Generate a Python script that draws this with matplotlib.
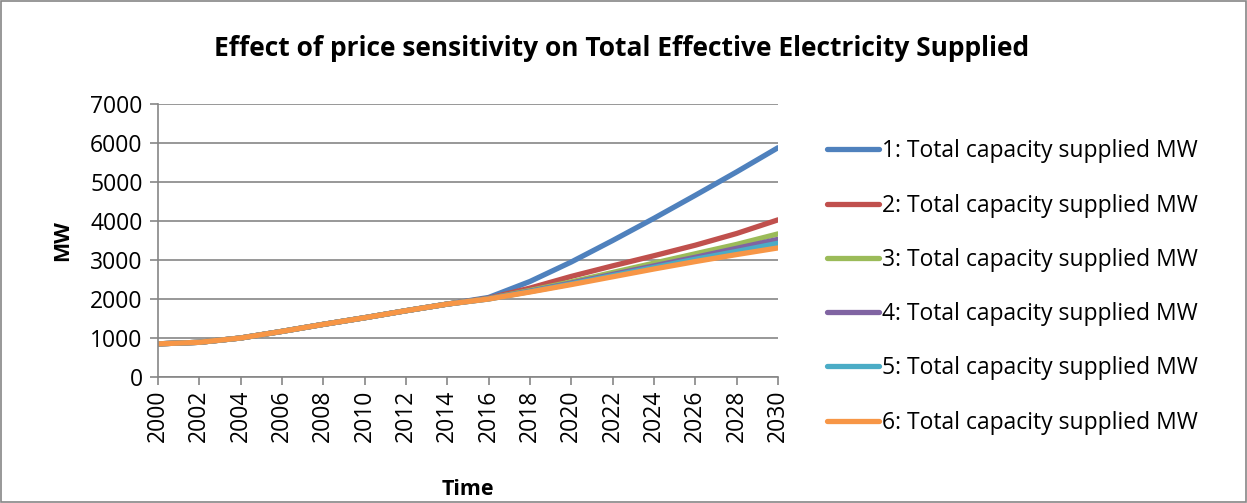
import matplotlib
matplotlib.use("Agg")
import matplotlib.pyplot as plt
from matplotlib.patches import Rectangle

years = [2000, 2002, 2004, 2006, 2008, 2010, 2012, 2014, 2016, 2018, 2020, 2022, 2024, 2026, 2028, 2030]
s1 = [850, 890, 1000, 1170, 1350, 1520, 1700, 1870, 2040, 2450, 2950, 3500, 4070, 4660, 5260, 5880]
s2 = [850, 890, 1000, 1170, 1350, 1520, 1700, 1870, 2020, 2280, 2580, 2850, 3110, 3380, 3680, 4030]
s3 = [850, 890, 1000, 1170, 1350, 1520, 1700, 1870, 2010, 2220, 2440, 2680, 2920, 3160, 3400, 3670]
s4 = [850, 890, 1000, 1170, 1350, 1520, 1700, 1870, 2005, 2200, 2410, 2630, 2850, 3070, 3300, 3530]
s5 = [850, 890, 1000, 1170, 1350, 1520, 1700, 1870, 2000, 2190, 2390, 2600, 2810, 3020, 3220, 3430]
s6 = [850, 890, 1000, 1170, 1350, 1520, 1700, 1870, 2000, 2180, 2370, 2570, 2770, 2960, 3140, 3310]
series = [s1, s2, s3, s4, s5, s6]
labels = [f"{i}: Total capacity supplied MW" for i in range(1, 7)]
colors = ["#4F81BD", "#C0504D", "#9BBB59", "#8064A2", "#4BACC6", "#F79646"]
yticks = [0, 1000, 2000, 3000, 4000, 5000, 6000, 7000]

plt.rcParams['font.family'] = ['Open Sans', 'DejaVu Sans']

fig = plt.figure(figsize=(12.47, 5.03), dpi=100)
fig.patches.append(Rectangle((0.001, 0.002), 0.998, 0.996, transform=fig.transFigure,
                             fill=False, edgecolor="#868686", linewidth=1.2))
ax = fig.add_axes([0.1267, 0.2505, 0.4972, 0.5427])

for s, lab, c in zip(series, labels, colors):
    ax.plot(years, s, color=c, linewidth=3.8, label=lab, solid_capstyle='round')

ax.set_xlim(2000, 2030)
ax.set_ylim(0, 7000)
ax.set_xticks(years)
ax.set_xticklabels([str(y) for y in years], rotation=90, fontsize=16.5)
ax.set_yticks(yticks)
ax.set_yticklabels([str(v) for v in yticks], fontsize=16.5)
ax.grid(axis='y', color='#868686', linewidth=1.2)
ax.set_axisbelow(True)
for side in ['top', 'right']:
    ax.spines[side].set_visible(False)
for side in ['left', 'bottom']:
    ax.spines[side].set_color('#868686')
    ax.spines[side].set_linewidth(1.2)
ax.tick_params(axis='both', colors='#868686', labelcolor='black', length=6, width=1.2, direction='out')
ax.tick_params(axis='x', pad=3)
ax.tick_params(axis='y', pad=5)

ax.set_xlabel("Time", fontsize=15.5, fontweight='bold', labelpad=27)
ax.set_ylabel("MW", fontsize=15.5, fontweight='bold', labelpad=12)
fig.suptitle("Effect of price sensitivity on Total Effective Electricity Supplied",
             fontsize=19, fontweight='bold', x=0.4985, y=0.93)

leg = ax.legend(loc='center left', bbox_to_anchor=(1.045, 0.33), frameon=False,
                fontsize=16.5, handlelength=2.3, handletextpad=0.1, labelspacing=1.32)

fig.savefig("out.png", dpi=100)
